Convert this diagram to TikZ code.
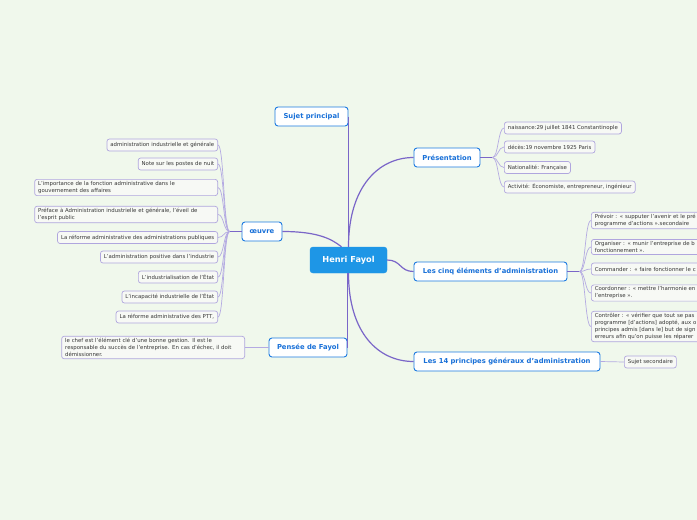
\documentclass[tikz,border=0pt]{standalone}
\usepackage{fontspec}
\setmainfont{DejaVu Sans}
\definecolor{bgcol}{RGB}{240,248,236}
\definecolor{rootblue}{RGB}{30,150,230}
\definecolor{topicblue}{RGB}{28,122,224}
\definecolor{topictext}{RGB}{24,112,216}
\definecolor{mainpurple}{RGB}{122,102,200}
\definecolor{subpurple}{RGB}{180,170,226}
\definecolor{leafborder}{RGB}{176,166,222}
\definecolor{leaffill}{RGB}{247,249,245}
\definecolor{leaftext}{RGB}{55,55,55}

\begin{document}
\begin{tikzpicture}[x=1pt, y=-1pt,
    every node/.style={font=\fontsize{5.4}{7}\selectfont, align=left},
    root/.style={draw=rootblue, fill=rootblue, rounded corners=3pt, text=white, font=\fontsize{8.2}{10}\selectfont\bfseries, minimum width=77pt, minimum height=26pt},
    topic/.style={draw=topicblue, line width=0.9pt, fill=white, rounded corners=3pt, text=topictext, font=\fontsize{6.8}{8}\selectfont\bfseries, minimum height=19pt, inner xsep=5pt},
    leaf/.style={draw=leafborder, line width=0.7pt, fill=leaffill, rounded corners=2.5pt, text=leaftext, minimum height=12pt, inner xsep=3.5pt, inner ysep=2pt},
    wide/.style={leaf, text width=176pt},
    mainline/.style={draw=mainpurple, line width=1.2pt},
    subline/.style={draw=subpurple, line width=0.7pt}]
    \useasboundingbox (0,0) rectangle (697,520);
    \clip (0,0) rectangle (697,520);
    \fill[bgcol] (0,0) rectangle (697,520);

    % centre and main topics
    \node[root] (fayol) at (348.5,260) {Henri Fayol};
    \node[topic, minimum width=73pt] (sujet) at (311.5,116.5) {Sujet principal};
    \node[topic, minimum width=40pt] (oeuvre) at (262,231.5) {œuvre};
    \node[topic, minimum width=66pt] (pres) at (447,157.5) {Présentation};
    \node[topic, minimum width=153pt] (cinq) at (490.5,271.5) {Les cinq éléments d'administration};
    \node[topic, minimum width=78pt] (pensee) at (308,347.5) {Pensée de Fayol};
    \node[topic, minimum width=186pt] (principes) at (507,361.5) {Les 14 principes généraux d'administration};

    % Présentation
    \node[leaf, anchor=west] (p1) at (504,128) {naissance:29 juillet 1841 Constantinople};
    \node[leaf, anchor=west] (p2) at (504,147) {décès:19 novembre 1925 Paris};
    \node[leaf, anchor=west] (p3) at (504,167.5) {Nationalité: Française};
    \node[leaf, anchor=west] (p4) at (504,187) {Activité: Économiste, entrepreneur, ingénieur};

    % cinq éléments
    \node[wide, anchor=west] (c1) at (591,220.5) {Prévoir : « supputer l'avenir et le pré\\programme d'actions ».secondaire};
    \node[wide, anchor=west] (c2) at (591,247) {Organiser : « munir l'entreprise de b\\fonctionnement ».};
    \node[wide, anchor=west] (c3) at (591,269) {Commander : « faire fonctionner le c};
    \node[wide, anchor=west] (c4) at (591,293) {Coordonner : « mettre l'harmonie en\\l'entreprise ».};
    \node[wide, anchor=west] (c5) at (591,326.5) {Contrôler : « vérifier que tout se pas\\programme [d'actions] adopté, aux o\\principes admis [dans le] but de sign\\erreurs afin qu'on puisse les réparer};

    % 14 principes
    \node[leaf, anchor=west] (s1) at (624,362) {Sujet secondaire};

    % oeuvre
    \node[leaf, anchor=east] (o1) at (218,145) {administration industrielle et générale};
    \node[leaf, anchor=east] (o2) at (218,164) {Note sur les postes de nuit};
    \node[wide, anchor=east] (o3) at (218,187.5) {L'importance de la fonction administrative dans le\\gouvernement des affaires};
    \node[wide, anchor=east] (o4) at (218,214.5) {Préface à Administration industrielle et générale, l'éveil de\\l'esprit public};
    \node[leaf, anchor=east] (o5) at (218,237.5) {La réforme administrative des administrations publiques};
    \node[leaf, anchor=east] (o6) at (218,257) {L'administration positive dans l'industrie};
    \node[leaf, anchor=east] (o7) at (218,277) {L'industrialisation de l'État};
    \node[leaf, anchor=east] (o8) at (218,297) {L'incapacité industrielle de l'État};
    \node[leaf, anchor=east] (o9) at (218,317) {La réforme administrative des PTT,};

    % Pensée de Fayol
    \node[wide, anchor=east] (e1) at (245,347.5) {le chef est l'élément clé d'une bonne gestion. Il est le\\responsable du succès de l'entreprise. En cas d'échec, il doit\\démissionner.};

    % connectors from the centre
    \draw[mainline] (sujet.east) -- (sujet.east |- fayol.north);
    \draw[mainline] (pensee.east) -- (pensee.east |- fayol.south);
    \draw[mainline] (oeuvre.east) .. controls +(35,0) and +(-10,-8) .. ([xshift=-7pt]fayol.north);
    \draw[mainline] (fayol.north) .. controls +(0,-60) and +(-35,0) .. (pres.west);
    \draw[mainline] (fayol.east) .. controls +(14,0) and +(-14,0) .. (cinq.west);
    \draw[mainline] (fayol.south) .. controls +(0,60) and +(-35,0) .. (principes.west);

    % forks
    \coordinate (presfork) at ([xshift=12pt]pres.east);
    \coordinate (cinqfork) at ([xshift=12pt]cinq.east);
    \coordinate (oeuvrefork) at ([xshift=-12pt]oeuvre.west);
    \draw[mainline] (pres.east) -- (presfork);
    \draw[mainline] (cinq.east) -- (cinqfork);
    \draw[mainline] (oeuvre.west) -- (oeuvrefork);
    \foreach \n in {p1,p2,p3,p4}
        \draw[subline] (presfork) .. controls +(6,0) and +(-6,0) .. (\n.west);
    \foreach \n in {c1,c2,c3,c4,c5}
        \draw[subline] (cinqfork) .. controls +(6,0) and +(-6,0) .. (\n.west);
    \foreach \n in {o1,o2,o3,o4,o5,o6,o7,o8,o9}
        \draw[subline] (oeuvrefork) .. controls +(-6,0) and +(6,0) .. (\n.east);
    \draw[subline] (pensee.west) -- (e1.east);
    \draw[subline] (principes.east) -- (s1.west);
\end{tikzpicture}
\end{document}
